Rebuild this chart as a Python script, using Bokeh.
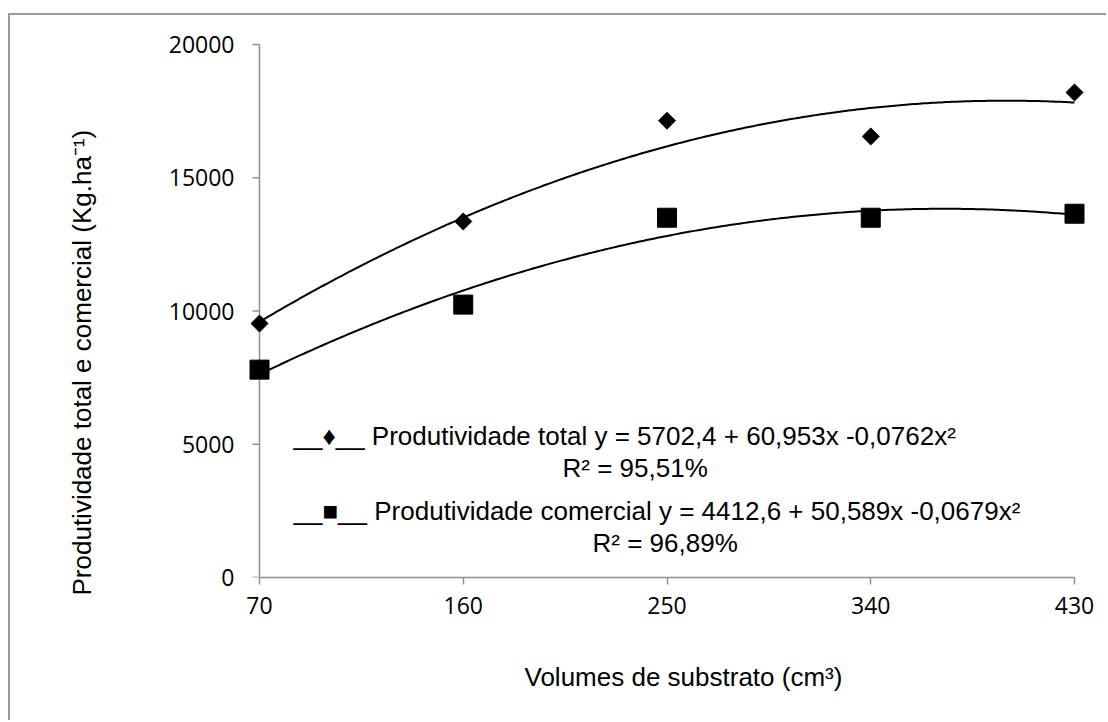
import numpy as np
from bokeh.plotting import figure
from bokeh.models import ColumnDataSource, Range1d, FixedTicker, Label, Title
from bokeh.embed import file_html
from bokeh.resources import INLINE

# ---- data ----
volumes = [70, 160, 250, 340, 430]
prod_total = [9530, 13360, 17140, 16550, 18200]
prod_comercial = [7800, 10240, 13500, 13500, 13650]
# trendline coefficients as printed on the chart (a + b*x + c*x^2)
coef_total = [5702.4, 60.953, -0.0762]
coef_comercial = [4412.6, 50.589, -0.0679]
y_ticks = [0, 5000, 10000, 15000, 20000]
legend_total = "__\u2666__  Produtividade total y = 5702,4 + 60,953x -0,0762x\u00b2"
r2_total = "R\u00b2 = 95,51%"
legend_comercial = "__\u25a0__  Produtividade comercial y = 4412,6 + 50,589x -0,0679x\u00b2"
r2_comercial = "R\u00b2 = 96,89%"
x_title = "Volumes de substrato (cm\u00b3)"
y_title = "Produtividade total e comercial (Kg.ha\u207b\u00b9)"

# ---- layout (page pixels) ----
AX_L, AX_R, AX_T, AX_B = 259, 1074, 44, 577   # axes positions on the page
OX, OY = 10, 15                               # canvas origin on the page
PAD = 12                                      # px so edge markers are not clipped
TPAD = 3
x0, x1 = min(volumes), max(volumes)
y0, y1 = min(y_ticks), max(y_ticks)
upx = (x1 - x0) / (AX_R - AX_L)
upy = (y1 - y0) / (AX_B - AX_T)


def px2x(px):
    return x0 + (px - AX_L) * upx


def py2y(py):
    return y0 + (AX_B - py) * upy


xs = np.linspace(x0, x1, 300)
fit_t = coef_total[0] + coef_total[1] * xs + coef_total[2] * xs ** 2
fit_c = coef_comercial[0] + coef_comercial[1] * xs + coef_comercial[2] * xs ** 2

src = ColumnDataSource(dict(x=volumes, t=prod_total, c=prod_comercial))

W, H = 1108 - OX, 722 - OY
p = figure(width=W, height=H, output_backend="svg", toolbar_location=None,
           x_range=Range1d(x0 - PAD * upx, x1 + PAD * upx),
           y_range=Range1d(y0, y1 + TPAD * upy),
           min_border_left=AX_L - PAD - OX, min_border_right=1108 - AX_R - PAD,
           min_border_top=AX_T - TPAD - OY, min_border_bottom=722 - AX_B)
p.styles = {"margin-left": "8px", "margin-top": "13px",
            "border-left": "2px solid #9a9a9a", "border-top": "2px solid #9a9a9a"}
p.outline_line_color = None
p.grid.visible = False
p.background_fill_color = "white"
p.border_fill_color = "white"

AXIS_COLOR = "#8f8f8f"
# vertical axis drawn at x = 70 (inside the padded frame)
p.segment(x0=[x0], y0=[y0], x1=[x0], y1=[y1], line_color=AXIS_COLOR, line_width=1.5)
p.ray(x=[x0] * len(y_ticks), y=y_ticks, length=7, length_units="screen", angle=np.pi,
      line_color=AXIS_COLOR, line_width=1.5)

p.line(xs, fit_t, line_color="black", line_width=2)
p.line(xs, fit_c, line_color="black", line_width=2)
p.scatter("x", "t", source=src, marker="square", angle=np.pi / 4, size=12,
          fill_color="black", line_color="black")
p.scatter("x", "c", source=src, marker="square", size=19,
          fill_color="black", line_color="black")

for ax in (p.xaxis[0], p.yaxis[0]):
    ax.axis_line_color = AXIS_COLOR
    ax.axis_line_width = 1.5
    ax.major_tick_line_color = AXIS_COLOR
    ax.major_tick_line_width = 1.5
    ax.major_tick_in = 0
    ax.major_tick_out = 7
    ax.minor_tick_line_color = None
    ax.major_label_text_font = "Open Sans"
    ax.major_label_text_font_size = "23px"
    ax.major_label_text_color = "black"

p.xaxis.ticker = FixedTicker(ticks=volumes)
p.yaxis.ticker = FixedTicker(ticks=y_ticks)
p.xaxis.bounds = (x0, x1)
p.xaxis.major_label_standoff = 12
p.yaxis.axis_line_color = None
p.yaxis.major_tick_line_color = None
p.yaxis.major_tick_out = 0
p.yaxis.major_label_standoff = 13

# thin spacer titles push the axis titles away from the tick labels
p.add_layout(Title(text=" ", text_font_size="1px", standoff=40), "below")
p.add_layout(Title(text=" ", text_font_size="1px", standoff=66), "left")
tfont = dict(text_font="Liberation Sans", text_font_size="26px",
             text_font_style="normal", text_color="black", align="left", standoff=0)
frame_l = AX_L - PAD
p.add_layout(Title(text=x_title, offset=524 - frame_l, **tfont), "below")
p.add_layout(Title(text=y_title, offset=AX_B - 595, **tfont), "left")

for txt, lx, ly in [(legend_total, 293, 435), (r2_total, 562, 467),
                    (legend_comercial, 293, 510), (r2_comercial, 592, 542)]:
    p.add_layout(Label(x=px2x(lx), y=py2y(ly), text=txt, text_font="Liberation Sans",
                       text_font_size="26px", text_baseline="middle",
                       text_align="left", text_color="black"))

open("out.html", "w").write(file_html(p, INLINE))
